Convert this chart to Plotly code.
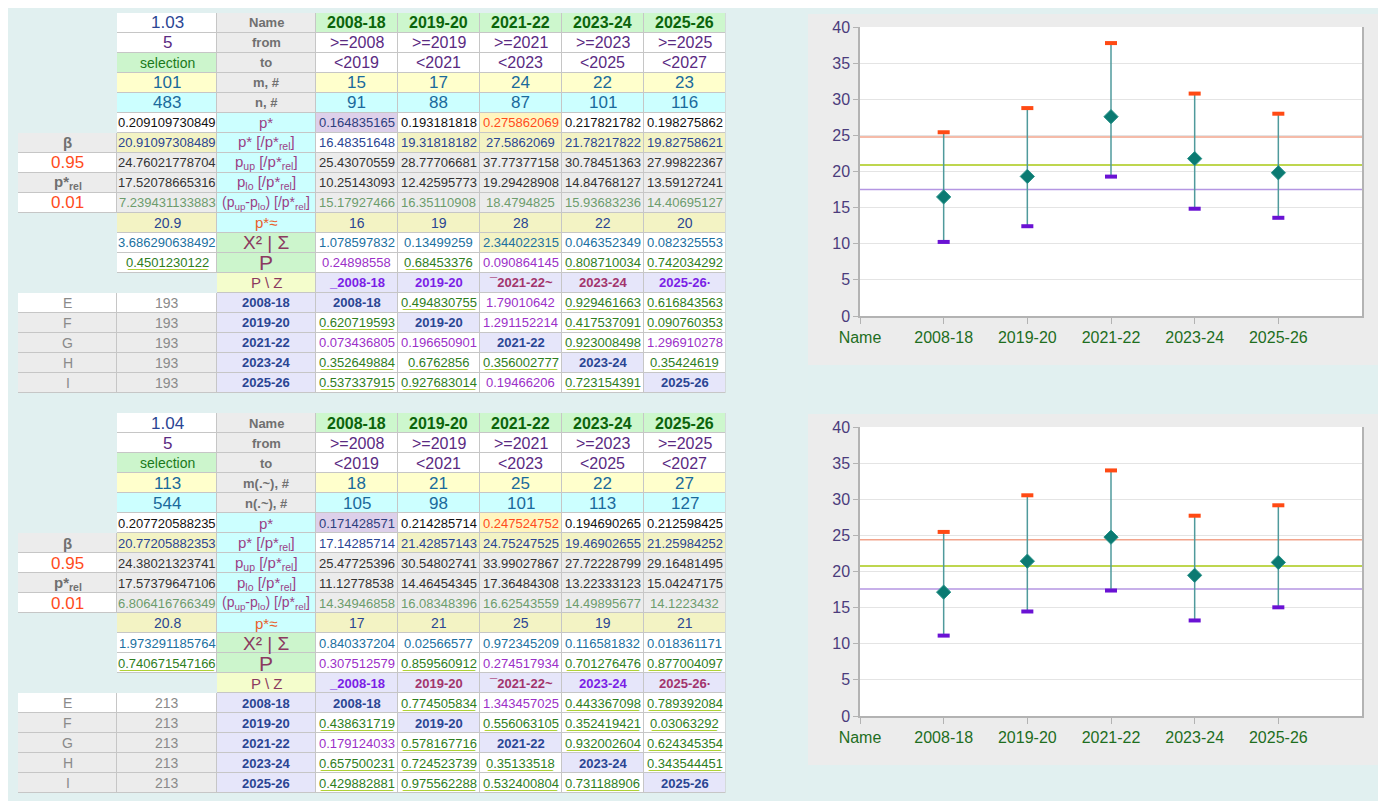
import plotly.graph_objects as go

# the page keeps the browser's 8px body margin, so the figure is 16px smaller than the window
OFF = 8
FW, FH = 1386 - 2 * OFF, 809 - 2 * OFF
FONT = "Liberation Sans"
BG = "#e1f0f0"


def px(x):
    return (x - OFF) / FW


def py(y):
    return 1 - (y - OFF) / FH


# ---- shared labels ----
periods = ["2008-18", "2019-20", "2021-22", "2023-24", "2025-26"]
fromYears = ["2008", "2019", "2021", "2023", "2025"]
toYears = ["2019", "2021", "2023", "2025", "2027"]
beta = "0.95"
alpha = "0.01"
rowLetters = ["E", "F", "G", "H", "I"]

# ---- block 1 ----
t1_scale = "1.03"
t1_k = "5"
t1_mLabel = "m, #"
t1_nLabel = "n, #"
t1_mAll = 101
t1_m = [15, 17, 24, 22, 23]
t1_nAll = 483
t1_n = [91, 88, 87, 101, 116]
t1_pAll = 0.209109730849
t1_p = [0.164835165, 0.193181818, 0.275862069, 0.217821782, 0.198275862]
t1_prelAll = 20.91097308489
t1_prel = [16.48351648, 19.31818182, 27.5862069, 21.78217822, 19.82758621]
t1_pupAll = 24.76021778704
t1_pup = [25.43070559, 28.77706681, 37.77377158, 30.78451363, 27.99822367]
t1_ploAll = 17.52078665316
t1_plo = [10.25143093, 12.42595773, 19.29428908, 14.84768127, 13.59127241]
t1_spanAll = 7.239431133883
t1_span = [15.17927466, 16.35110908, 18.4794825, 15.93683236, 14.40695127]
t1_approxAll = 20.9
t1_approx = [16, 19, 28, 22, 20]
t1_chiAll = 3.686290638492
t1_chi = [1.078597832, 0.13499259, 2.344022315, 0.046352349, 0.082325553]
t1_PAll = 0.4501230122
t1_P = [0.24898558, 0.68453376, 0.090864145, 0.808710034, 0.742034292]
t1_PStyle = "pgpgg"
t1_pzHead = ["_2008-18", "2019-20", "\u00af2021-22~", "2023-24", "2025-26\u00b7"]
t1_pzHeadStyle = "ppmmp"
t1_nRef = 193
t1_pz = [
    [None, 0.494830755, 1.79010642, 0.929461663, 0.616843563],
    [0.620719593, None, 1.291152214, 0.417537091, 0.090760353],
    [0.073436805, 0.196650901, None, 0.923008498, 1.296910278],
    [0.352649884, 0.6762856, 0.356002777, None, 0.35424619],
    [0.537337915, 0.927683014, 0.19466206, 0.723154391, None],
]
t1_pzStyle = ["-gpgg", "g-pgg", "pp-gp", "ggg-g", "ggpg-"]
t1_barRel = [0, 1, 1, 1, 1]
t1_barChi = [0, 0, 1, 0, 0]

# ---- block 2 ----
t2_scale = "1.04"
t2_k = "5"
t2_mLabel = "m(.~), #"
t2_nLabel = "n(.~), #"
t2_mAll = 113
t2_m = [18, 21, 25, 22, 27]
t2_nAll = 544
t2_n = [105, 98, 101, 113, 127]
t2_pAll = 0.207720588235
t2_p = [0.171428571, 0.214285714, 0.247524752, 0.194690265, 0.212598425]
t2_prelAll = 20.77205882353
t2_prel = [17.14285714, 21.42857143, 24.75247525, 19.46902655, 21.25984252]
t2_pupAll = 24.38021323741
t2_pup = [25.47725396, 30.54802741, 33.99027867, 27.72228799, 29.16481495]
t2_ploAll = 17.57379647106
t2_plo = [11.12778538, 14.46454345, 17.36484308, 13.22333123, 15.04247175]
t2_spanAll = 6.806416766349
t2_span = [14.34946858, 16.08348396, 16.62543559, 14.49895677, 14.1223432]
t2_approxAll = 20.8
t2_approx = [17, 21, 25, 19, 21]
t2_chiAll = 1.973291185764
t2_chi = [0.840337204, 0.02566577, 0.972345209, 0.116581832, 0.018361171]
t2_PAll = 0.740671547166
t2_P = [0.307512579, 0.859560912, 0.274517934, 0.701276476, 0.877004097]
t2_PStyle = "pgpgg"
t2_pzHead = ["_2008-18", "2019-20", "\u00af2021-22~", "2023-24", "2025-26\u00b7"]
t2_pzHeadStyle = "pmmpm"
t2_nRef = 213
t2_pz = [
    [None, 0.774505834, 1.343457025, 0.443367098, 0.789392084],
    [0.438631719, None, 0.556063105, 0.352419421, 0.03063292],
    [0.179124033, 0.578167716, None, 0.932002604, 0.624345354],
    [0.657500231, 0.724523739, 0.35133518, None, 0.343544451],
    [0.429882881, 0.975562288, 0.532400804, 0.731188906, None],
]
t2_pzStyle = ["-gpgg", "g-ggg", "pg-gg", "ggg-g", "gggg-"]
t2_barRel = [0, 1, 1, 1, 1]
t2_barChi = [0, 0, 0, 0, 0]

# ---- colours ----
WHITE = "#ffffff"
GRAYC = "#ececec"
HDRGREEN = "#cdf7cd"
LGREEN = "#ccf5cc"
CYAN = "#ccffff"
LYELLOW = "#ffffcc"
LAV = "#e6e6fa"
PZLBL = "#f4fdcc"
PMIN = "#ddd0ea"
PMAX = "#fff5bf"
BAR = "#f3f3c4"
GRIDLINE = "#c6c6c6"

NAVY = "#2a4593"
DPURP = "#5a2a82"
DKGREEN = "#0b640b"
SELGREEN = "#1a7a1a"
LBLGRAY = "#707070"
TEAL = "#1a6a9c"
INK = "#111111"
DARK = "#333333"
SAGE = "#6c9c6c"
TEALBLUE = "#2070a0"
GREEN = "#2e7d1e"
VIOLET = "#9b30c8"
LBLPURP = "#9a3f86"
MAROON = "#8b3a60"
LBLORANGE = "#e8602c"
RED = "#ff4c1c"
HDRPURP = "#7a1ee6"
HDRMAROON = "#a2346c"
LETTER = "#8a8a8a"
ULINE = "#a4cc10"

REL = "<sub>rel</sub>"


def cell(text="", fill=WHITE, color=INK, size=13, bold=False, ul=False):
    return dict(text=("<b>%s</b>" % text) if (bold and text) else text, raw=text,
                fill=fill, color=color, size=size, ul=ul)


def empty():
    return cell("", None, BG)


def makeBlock(b):
    rows = []
    rows.append([empty(), cell(b["scale"], WHITE, NAVY, 17), cell("Name", GRAYC, LBLGRAY, 13, True)]
                + [cell(p, HDRGREEN, DKGREEN, 16, True) for p in periods])
    rows.append([empty(), cell(b["k"], WHITE, DPURP, 17), cell("from", GRAYC, LBLGRAY, 13, True)]
                + [cell("&gt;=" + y, WHITE, DPURP, 16) for y in fromYears])
    rows.append([empty(), cell("selection", LGREEN, SELGREEN, 14), cell("to", GRAYC, LBLGRAY, 13, True)]
                + [cell("&lt;" + y, WHITE, DPURP, 16) for y in toYears])
    rows.append([empty(), cell(str(b["mAll"]), LYELLOW, TEAL, 17), cell(b["mLabel"], GRAYC, LBLGRAY, 13, True)]
                + [cell(str(v), LYELLOW, TEAL, 17) for v in b["m"]])
    rows.append([empty(), cell(str(b["nAll"]), CYAN, TEAL, 17), cell(b["nLabel"], GRAYC, LBLGRAY, 13, True)]
                + [cell(str(v), CYAN, TEAL, 17) for v in b["n"]])
    pmin, pmax = b["p"].index(min(b["p"])), b["p"].index(max(b["p"]))
    prow = []
    for i, v in enumerate(b["p"]):
        if i == pmin:
            prow.append(cell(str(v), PMIN, "#2e3e7e"))
        elif i == pmax:
            prow.append(cell(str(v), PMAX, RED))
        else:
            prow.append(cell(str(v), WHITE, INK))
    rows.append([empty(), cell(str(b["pAll"]), WHITE, INK), cell("p*", CYAN, LBLPURP, 15)] + prow)
    rows.append([cell("\u03b2", GRAYC, LBLGRAY, 15, True), cell(str(b["prelAll"]), BAR, NAVY),
                 cell("p* [/p*" + REL + "]", CYAN, LBLPURP, 15)]
                + [cell(str(v), BAR if f else WHITE, NAVY) for v, f in zip(b["prel"], b["barRel"])])
    rows.append([cell(beta, WHITE, RED, 17), cell(str(b["pupAll"]), GRAYC, DARK),
                 cell("p<sub>up</sub> [/p*" + REL + "]", CYAN, LBLPURP, 15)]
                + [cell(str(v), GRAYC, DARK) for v in b["pup"]])
    rows.append([cell("p*" + REL, GRAYC, LBLGRAY, 15, True), cell(str(b["ploAll"]), GRAYC, DARK),
                 cell("p<sub>lo</sub> [/p*" + REL + "]", CYAN, LBLPURP, 15)]
                + [cell(str(v), GRAYC, DARK) for v in b["plo"]])
    rows.append([cell(alpha, WHITE, RED, 17), cell(str(b["spanAll"]), GRAYC, SAGE),
                 cell("(p<sub>up</sub>-p<sub>lo</sub>) [/p*" + REL + "]", CYAN, LBLPURP, 14)]
                + [cell(str(v), GRAYC, SAGE) for v in b["span"]])
    rows.append([empty(), cell(str(b["approxAll"]), BAR, NAVY, 14), cell("p*\u2248", CYAN, LBLORANGE, 15)]
                + [cell(str(v), BAR, NAVY, 14) for v in b["approx"]])
    rows.append([empty(), cell(str(b["chiAll"]), WHITE, TEALBLUE), cell("X\u00b2 | \u03a3", LGREEN, MAROON, 19)]
                + [cell(str(v), BAR if f else WHITE, TEALBLUE) for v, f in zip(b["chi"], b["barChi"])])
    rows.append([empty(), cell(str(b["PAll"]), WHITE, GREEN, ul=True), cell("P", LGREEN, MAROON, 21)]
                + [cell(str(v), WHITE, GREEN if s == "g" else VIOLET, ul=(s == "g"))
                   for v, s in zip(b["P"], b["PStyle"])])
    rows.append([empty(), empty(), cell("P \\ Z", PZLBL, MAROON, 15)]
                + [cell(h, LAV, HDRPURP if s == "p" else HDRMAROON, 13, True)
                   for h, s in zip(b["pzHead"], b["pzHeadStyle"])])
    for i, letter in enumerate(rowLetters):
        fill = WHITE if i == 0 else GRAYC
        r = [cell(letter, fill, LETTER, 14), cell(str(b["nRef"]), fill, LETTER, 14),
             cell(periods[i], LAV, NAVY, 13, True)]
        for j in range(5):
            v, s = b["pz"][i][j], b["pzStyle"][i][j]
            if v is None:
                r.append(cell(periods[j], LAV, NAVY, 13, True))
            else:
                r.append(cell(str(v), WHITE, GREEN if s == "g" else VIOLET, ul=(s == "g")))
        rows.append(r)
    return rows


colWidths = [99.4, 99.4, 99, 82, 82, 82, 82, 81.6]
ROW_H = 20
TX0, TX1 = 18, 725.5

fig = go.Figure()


def addTable(fig, b, top, xa, ya):
    rows = makeBlock(b)
    nrows = len(rows)
    edges = [0]
    for w in colWidths:
        edges.append(edges[-1] + w)
    yEdges = list(range(nrows + 1))
    # sheet cells as a heatmap on a hidden axis: a grey layer for the borders, the fills on top with gaps
    palette = sorted({cl["fill"] for r in rows for cl in r if cl["fill"]})
    zFill = [[(palette.index(cl["fill"]) + 0.5) if cl["fill"] else None for cl in r] for r in rows]
    zGrid = [[0.5 if cl["fill"] else None for cl in r] for r in rows]
    n = len(palette)
    scale = []
    for i, col in enumerate(palette):
        scale += [[i / n, col], [(i + 1) / n, col]]
    common = dict(x=edges, y=yEdges, xaxis=xa, yaxis=ya, showscale=False, hoverinfo="skip")
    fig.add_trace(go.Heatmap(z=zGrid, zmin=0, zmax=1, colorscale=[[0, GRIDLINE], [1, GRIDLINE]], **common))
    fig.add_trace(go.Heatmap(z=zFill, zmin=0, zmax=n, colorscale=scale, xgap=1, ygap=1, **common))
    # cell texts
    for i, r in enumerate(rows):
        for c, cl in enumerate(r):
            if not cl["text"]:
                continue
            xc = (edges[c] + edges[c + 1]) / 2
            fig.add_annotation(x=xc, y=i + 0.5, xref=xa, yref=ya, text=cl["text"], showarrow=False,
                               xanchor="center", yanchor="middle",
                               font=dict(family=FONT, size=cl["size"], color=cl["color"]))
            if cl["ul"]:
                fig.add_annotation(x=xc, y=i + 0.5, xref=xa, yref=ya, text="_" * (len(cl["raw"]) - 1),
                                   showarrow=False, xanchor="center", yanchor="middle",
                                   font=dict(family=FONT, size=13, color=ULINE))
    bottom = top + nrows * ROW_H
    return [px(TX0), px(TX1)], [py(bottom), py(top)], edges[-1], nrows


blk1 = dict(scale=t1_scale, k=t1_k, mLabel=t1_mLabel, nLabel=t1_nLabel, mAll=t1_mAll, m=t1_m,
            nAll=t1_nAll, n=t1_n, pAll=t1_pAll, p=t1_p, prelAll=t1_prelAll, prel=t1_prel,
            pupAll=t1_pupAll, pup=t1_pup, ploAll=t1_ploAll, plo=t1_plo, spanAll=t1_spanAll,
            span=t1_span, approxAll=t1_approxAll, approx=t1_approx, chiAll=t1_chiAll, chi=t1_chi,
            PAll=t1_PAll, P=t1_P, PStyle=t1_PStyle, pzHead=t1_pzHead, pzHeadStyle=t1_pzHeadStyle,
            nRef=t1_nRef, pz=t1_pz, pzStyle=t1_pzStyle, barRel=t1_barRel, barChi=t1_barChi)
blk2 = dict(scale=t2_scale, k=t2_k, mLabel=t2_mLabel, nLabel=t2_nLabel, mAll=t2_mAll, m=t2_m,
            nAll=t2_nAll, n=t2_n, pAll=t2_pAll, p=t2_p, prelAll=t2_prelAll, prel=t2_prel,
            pupAll=t2_pupAll, pup=t2_pup, ploAll=t2_ploAll, plo=t2_plo, spanAll=t2_spanAll,
            span=t2_span, approxAll=t2_approxAll, approx=t2_approx, chiAll=t2_chiAll, chi=t2_chi,
            PAll=t2_PAll, P=t2_P, PStyle=t2_PStyle, pzHead=t2_pzHead, pzHeadStyle=t2_pzHeadStyle,
            nRef=t2_nRef, pz=t2_pz, pzStyle=t2_pzStyle, barRel=t2_barRel, barChi=t2_barChi)

tx1, ty1, tw1, tn1 = addTable(fig, blk1, 13, "x3", "y3")
tx2, ty2, tw2, tn2 = addTable(fig, blk2, 413, "x4", "y4")

# ---- charts ----
STEM = "#4f9a9c"
UPCAP = "#ff4a14"
LOCAP = "#6a12d4"
DIAMOND = "#0b7a72"
AXIS = "#b3b3b3"
HL_UP = "#f2a48c"
HL_MID = "#a8c814"
HL_LO = "#b496e2"

for top, bottom in [(14, 365), (414, 765)]:
    fig.add_shape(type="rect", xref="paper", yref="paper", x0=px(808), x1=min(1.0, px(1382)),
                  y0=py(bottom), y1=py(top), fillcolor="#ececec", line=dict(width=0), layer="below")
for xa, ya in [("x", "y"), ("x2", "y2")]:
    fig.add_shape(type="rect", xref=xa + " domain", yref=ya + " domain", x0=0, x1=1, y0=0, y1=1,
                  fillcolor="white", line=dict(width=0), layer="below")


def addChart(fig, xa, ya, prel, pup, plo, prelAll, pupAll, ploAll):
    for val, col in [(pupAll, HL_UP), (prelAll, HL_MID), (ploAll, HL_LO)]:
        fig.add_shape(type="line", xref=xa + " domain", x0=0, x1=1, yref=ya, y0=val, y1=val,
                      line=dict(color=col, width=1.5), layer="below")
    stemX, stemY = [], []
    for per, lo, up in zip(periods, plo, pup):
        stemX += [per, per, None]
        stemY += [lo, up, None]
    common = dict(xaxis=xa, yaxis=ya, hoverinfo="skip", showlegend=False)
    fig.add_trace(go.Scatter(x=stemX, y=stemY, mode="lines", line=dict(color=STEM, width=1.5), **common))
    fig.add_trace(go.Scatter(x=periods, y=pup, mode="markers",
                             marker=dict(symbol="line-ew", size=8.6, line=dict(width=4, color=UPCAP)), **common))
    fig.add_trace(go.Scatter(x=periods, y=plo, mode="markers",
                             marker=dict(symbol="line-ew", size=8.6, line=dict(width=4, color=LOCAP)), **common))
    fig.add_trace(go.Scatter(x=periods, y=prel, mode="markers",
                             marker=dict(symbol="diamond", size=11, color=DIAMOND,
                                         line=dict(width=1, color="#2a948a")), **common))


addChart(fig, "x", "y", t1_prel, t1_pup, t1_plo, t1_prelAll, t1_pupAll, t1_ploAll)
addChart(fig, "x2", "y2", t2_prel, t2_pup, t2_plo, t2_prelAll, t2_pupAll, t2_ploAll)

xaxisStyle = dict(type="category", categoryorder="array", categoryarray=["Name"] + periods,
                  range=[0, 6], showgrid=False, showline=True, linecolor=AXIS, linewidth=1.5,
                  ticks="outside", ticklen=6, tickcolor=AXIS, zeroline=False, fixedrange=True,
                  automargin=False, tickfont=dict(family=FONT, size=16, color="#1e6e1e"))
yaxisStyle = dict(range=[0, 40], dtick=5, showgrid=True, gridcolor="#e4e4e4", gridwidth=1,
                  showline=True, linecolor=AXIS, linewidth=1.5, mirror=True, ticks="outside",
                  ticklen=5, tickcolor=AXIS, zeroline=False, fixedrange=True, automargin=False,
                  tickfont=dict(family=FONT, size=16, color="#4b3c7c"))
hidden = dict(visible=False, fixedrange=True, showgrid=False, zeroline=False, automargin=False)

xdom = [px(860), px(1362)]
fig.update_layout(
    width=FW, height=FH,
    margin=dict(l=0, r=0, t=0, b=0, pad=0, autoexpand=False),
    paper_bgcolor=BG, plot_bgcolor="rgba(0,0,0,0)",
    font=dict(family=FONT),
    showlegend=False,
    xaxis=dict(domain=xdom, anchor="y", **xaxisStyle),
    yaxis=dict(domain=[py(316), py(27)], anchor="x", **yaxisStyle),
    xaxis2=dict(domain=xdom, anchor="y2", **xaxisStyle),
    yaxis2=dict(domain=[py(716), py(427)], anchor="x2", **yaxisStyle),
    xaxis3=dict(domain=tx1, anchor="y3", range=[0, tw1], **hidden),
    yaxis3=dict(domain=ty1, anchor="x3", range=[tn1, 0], **hidden),
    xaxis4=dict(domain=tx2, anchor="y4", range=[0, tw2], **hidden),
    yaxis4=dict(domain=ty2, anchor="x4", range=[tn2, 0], **hidden),
)

fig.write_html("out.html", config={"displayModeBar": False})
